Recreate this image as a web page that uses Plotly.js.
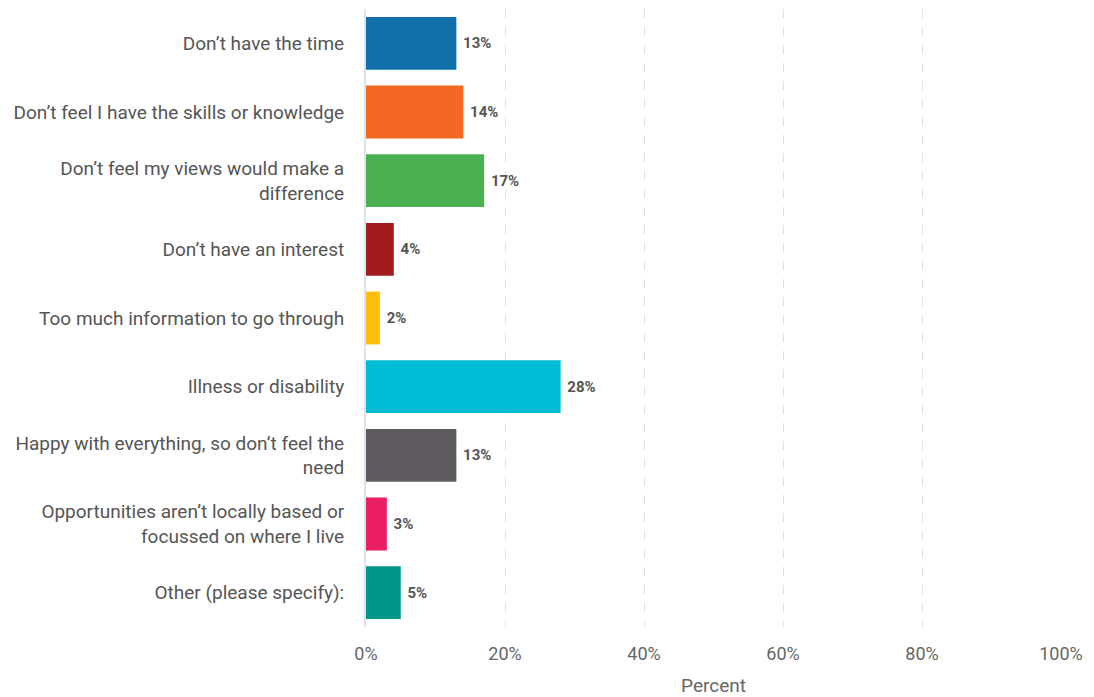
<!DOCTYPE html>
<html>
<head>
<meta charset="utf-8">
<script src="https://cdn.plot.ly/plotly-3.0.1.min.js"></script>
<style>html,body{margin:0;padding:0;background:#fff;}#chart{width:1094px;height:697px;}</style>
</head>
<body>
<div id="chart"></div>
<script>
const categories = [
  "Don’t have the time",
  "Don’t feel I have the skills or knowledge",
  "Don’t feel my views would make a<br>difference",
  "Don’t have an interest",
  "Too much information to go through",
  "Illness or disability",
  "Happy with everything, so don’t feel the<br>need",
  "Opportunities aren’t locally based or<br>focussed on where I live",
  "Other (please specify):"
];
const values = [13, 14, 17, 4, 2, 28, 13, 3, 5];
const colors = ["#1170aa", "#f26722", "#4caf50", "#a21b1f", "#fcbf10", "#00bcd4", "#5f5a60", "#e91e63", "#009688"];
const tickVals = [0, 20, 40, 60, 80, 100];
const tickText = ["0%", "20%", "40%", "60%", "80%", "100%"];

const trace = {
  type: "bar",
  orientation: "h",
  y: categories,
  x: values,
  marker: {color: colors},
  width: 0.77,
  text: values.map(v => " " + v + "%"),
  textposition: "outside",
  textfont: {family: "Roboto, sans-serif", size: 15, color: "#555555", weight: "bold"},
  cliponaxis: false,
  hoverinfo: "none"
};

const layout = {
  width: 1094,
  height: 697,
  margin: {l: 366, r: 33, t: 9, b: 70},
  paper_bgcolor: "#ffffff",
  plot_bgcolor: "#ffffff",
  showlegend: false,
  font: {family: "Roboto, sans-serif", color: "#555555"},
  xaxis: {
    range: [0, 100],
    tickvals: tickVals,
    ticktext: tickText,
    tickfont: {size: 18, color: "#666666"},
    showgrid: true,
    gridcolor: "#e0e0e0",
    griddash: "dash",
    gridwidth: 1,
    zeroline: false,
    showline: false,
    ticks: "",
    ticklen: 0,
    ticklabelstandoff: 14,
    title: {text: "Percent", font: {size: 19, color: "#666666"}, standoff: 16}
  },
  yaxis: {
    autorange: "reversed",
    tickfont: {size: 19, color: "#555555"},
    showgrid: false,
    zeroline: false,
    showline: true,
    linecolor: "#dde3ee",
    linewidth: 2,
    ticks: "",
    ticklabelstandoff: 16
  },
  bargap: 0.23
};

Plotly.newPlot("chart", [trace], layout, {displayModeBar: false, staticPlot: true});
</script>
</body>
</html>
